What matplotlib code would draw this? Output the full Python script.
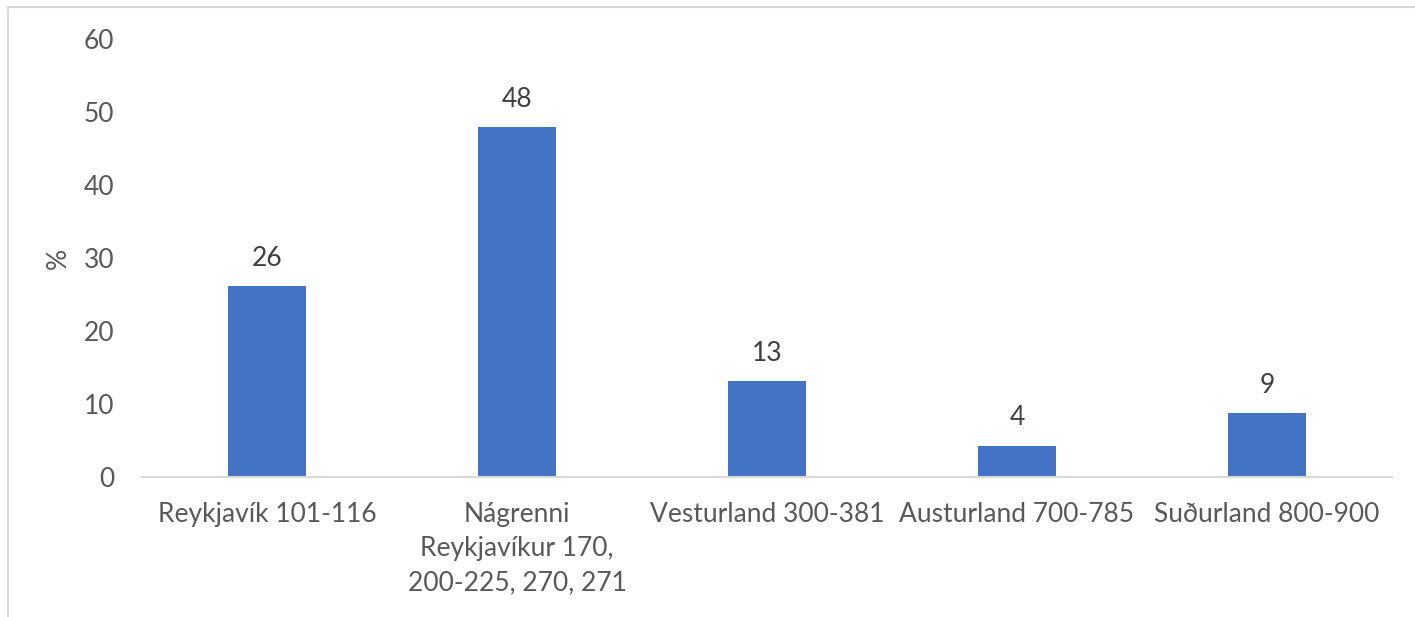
import matplotlib.pyplot as plt
from matplotlib.lines import Line2D

# data
svaedi = ['Reykjavík 101-116', 'Nágrenni\nReykjavíkur 170,\n200-225, 270, 271',
          'Vesturland 300-381', 'Austurland 700-785', 'Suðurland 800-900']
hlutfall = [26.1, 47.9, 13.1, 4.3, 8.7]
merki = ['26', '48', '13', '4', '9']
y_ticks = [0, 10, 20, 30, 40, 50, 60]

plt.rcParams['font.family'] = ['Lato', 'DejaVu Sans']

fig = plt.figure(figsize=(14.15, 6.17), dpi=100)
ax = fig.add_axes([142/1415, 1 - 477/617, 1250/1415, 438/617])

x = range(len(svaedi))
bars = ax.bar(x, hlutfall, width=0.31, color='#4472C4', zorder=2)

for b, t in zip(bars, merki):
    ax.annotate(t, (b.get_x() + b.get_width()/2, b.get_height()),
                xytext=(0, 11), textcoords='offset points',
                ha='center', va='bottom', fontsize=19, color='#404040')

ax.set_xlim(-0.5, len(svaedi) - 0.5)
ax.set_ylim(0, 60)
ax.set_yticks(y_ticks)
ax.set_xticks(list(x))
ax.set_xticklabels(svaedi, linespacing=1.45)

for s in ['top', 'right', 'left']:
    ax.spines[s].set_visible(False)
ax.spines['bottom'].set_color('#d9d9d9')
ax.spines['bottom'].set_linewidth(1.5)

ax.tick_params(axis='both', length=0, labelsize=19, labelcolor='#595959')
ax.tick_params(axis='y', pad=20)
ax.tick_params(axis='x', pad=18)
ax.set_ylabel('%', fontsize=19, color='#595959')
ax.yaxis.set_label_coords(-0.057, 0.5)

# light frame of the chart area
fig.add_artist(Line2D([8/1415, 8/1415], [0, 1 - 7/617], color='#d9d9d9', lw=1.5))
fig.add_artist(Line2D([8/1415, 1], [1 - 7/617, 1 - 7/617], color='#d9d9d9', lw=1.5))

fig.savefig('out.png', dpi=100)
